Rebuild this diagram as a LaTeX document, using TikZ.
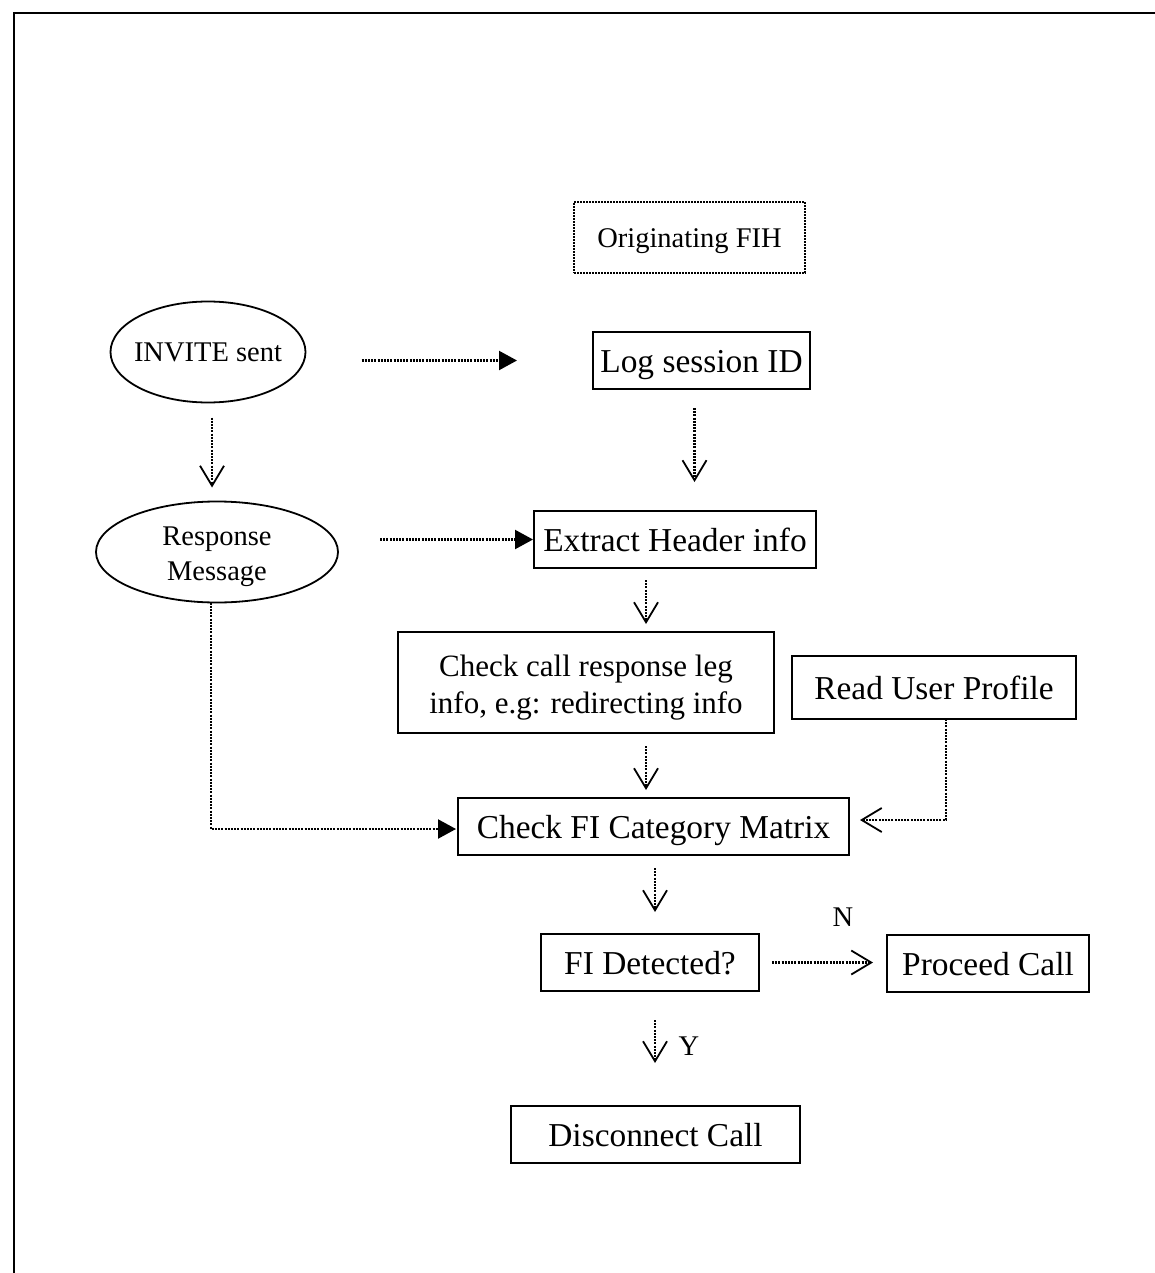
\documentclass[tikz,border=0pt]{standalone}
\usepackage{fontspec}
\setmainfont{Liberation Serif}
\usetikzlibrary{arrows.meta,shapes.geometric}
\begin{document}
\begin{tikzpicture}[x=1pt,y=-1pt,
  every node/.style={inner sep=0pt, outer sep=0pt},
  bigtxt/.style={font=\fontsize{33.4}{40}\selectfont, text height=23pt, text depth=0pt},
  smalltxt/.style={font=\fontsize{28.5}{35}\selectfont},
  box/.style={draw, line width=1.8pt, rectangle, bigtxt},
  oval/.style={draw, line width=1.8pt, ellipse},
  conn/.style={line width=2.2pt, dash pattern=on 2pt off 1.2pt,
    -{Straight Barb[length=20pt,width=24pt,line width=1.8pt]}},
  connF/.style={line width=2.2pt, dash pattern=on 2pt off 1.2pt,
    -{Triangle[length=18pt,width=19pt]}}]
\useasboundingbox (0,0) rectangle (1155,1273);
% outer frame (top and left edges)
\draw[line width=2pt] (14,1273) -- (14,13) -- (1155,13);

% nodes
\node[draw, line width=1.6pt, dash pattern=on 1.8pt off 1.2pt,
      minimum width=231pt, minimum height=71pt, smalltxt,
      text height=19.7pt, text depth=0pt] (orig) at (689.5,237.5) {Originating FIH};
\node[oval, minimum width=195pt, minimum height=101pt,
      label={[smalltxt]center:INVITE sent}] (inv) at (208,352) {};
\node[oval, minimum width=242pt, minimum height=101pt,
      label={[smalltxt, align=center, yshift=-5pt]center:Response\\Message}] (resp) at (217,552) {};
\node[box, minimum width=217pt, minimum height=57pt] (log) at (701.5,360.5) {Log session ID};
\node[box, minimum width=282pt, minimum height=57pt] (ext) at (675,539.5) {Extract Header info};
\node[draw, line width=1.8pt, minimum width=376pt, minimum height=101pt,
      label={[align=center, font=\fontsize{31}{37}\selectfont, yshift=-5pt]center:Check call response leg\\info, e.g: redirecting info}] (chk) at (586,682.5) {};
\node[box, minimum width=284pt, minimum height=63pt] (prof) at (934,687.5) {Read User Profile};
\node[box, minimum width=391pt, minimum height=57pt] (cfi) at (653.5,826.5) {Check FI Category Matrix};
\node[box, minimum width=218pt, minimum height=57pt] (fid) at (650,962.5) {FI Detected?};
\node[box, minimum width=202pt, minimum height=57pt] (proc) at (988,963.5) {Proceed Call};
\node[box, minimum width=289pt, minimum height=57pt] (disc) at (655.5,1134.5) {Disconnect Call};

% helper columns / bends
\coordinate (colA) at (646,0);
\coordinate (colB) at (655,0);
\coordinate (rp) at (946,820);
\coordinate (rl) at (211,829);

% connectors
\draw[connF, shorten <=56pt, shorten >=76pt] (inv.east |- log.west) -- (log.west);
\draw[conn, shorten <=15pt, shorten >=14pt] ([xshift=4pt]inv.south) -- ([xshift=-5pt]resp.north);
\draw[connF, shorten <=42pt, shorten >=1pt] (resp.east |- ext.west) -- (ext.west);
\draw[conn, shorten <=19pt, shorten >=29pt] ([xshift=-7pt]log.south) -- ([xshift=-7pt]log.south |- ext.north);
\draw[conn, shorten <=12pt, shorten >=8pt] (ext.south -| colA) -- (chk.north -| colA);
\draw[conn, shorten <=13pt, shorten >=8pt] (chk.south -| colA) -- (cfi.north -| colA);
\draw[connF, shorten >=2pt] (resp.south -| rl) -- (rl) -- (rl -| cfi.west);
\draw[conn, shorten >=11pt] (prof.south -| rp) -- (rp) -- (rp -| cfi.east);
\draw[conn, shorten <=13pt, shorten >=22pt] (cfi.south -| colB) -- (fid.north -| colB);
\draw[conn, shorten <=13pt, shorten >=14pt] (fid.east) -- (fid.east -| proc.west);
\draw[conn, shorten <=29pt, shorten >=43pt] (fid.south -| colB) -- (disc.north -| colB);

% branch labels
\node[smalltxt] (lblN) at (843,917) {N};
\node[smalltxt] (lblY) at (689,1046) {Y};
\end{tikzpicture}
\end{document}
